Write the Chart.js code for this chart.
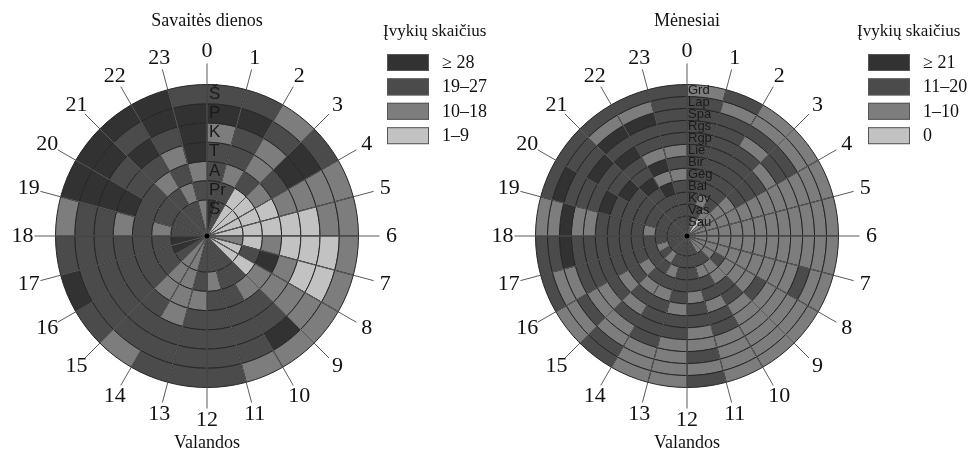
<!DOCTYPE html>
<html>
<head>
<meta charset="utf-8">
<script src="https://cdn.jsdelivr.net/npm/chart.js@4.4.1/dist/chart.umd.min.js"></script>
<style>
  html, body { margin: 0; padding: 0; background: #fff; }
  #wrap { position: relative; width: 976px; height: 456px; overflow: hidden; }
  .box { position: absolute; top: 0; height: 456px; }
</style>
</head>
<body>
<div id="wrap">
  <div class="box" style="left:0; width:520px"><canvas id="chartDays"></canvas></div>
  <div class="box" style="left:488px; width:488px"><canvas id="chartMonths"></canvas></div>
</div>
<script>
// hours round the circle
const hours = ['0','1','2','3','4','5','6','7','8','9','10','11','12','13','14','15','16','17','18','19','20','21','22','23'];

// class of each cell (0 = lightest ... 3 = darkest), one array per ring, outer ring first
const dayLabels = ['Š', 'P', 'K', 'T', 'A', 'Pr', 'S'];
const dSat = [2,2,1,2,1,1, 1,1,1,1,1,2, 2,2,1,2,3,2, 1,3,3,3,3,2];
const dFri = [3,3,2,3,1,1, 0,0,1,3,2,2, 2,2,2,2,2,2, 2,3,3,2,3,3];
const dThu = [1,2,1,3,1,0, 0,0,1,2,2,2, 2,2,2,2,2,2, 2,3,2,3,2,3];
const dWed = [2,2,1,2,1,0, 0,1,1,2,2,2, 2,1,2,2,2,2, 1,3,2,2,1,3];
const dTue = [2,1,2,1,0,0, 1,3,1,1,2,2, 1,1,1,2,2,2, 2,2,2,1,2,1];
const dMon = [2,2,0,0,0,0, 0,2,0,2,2,1, 2,1,1,2,2,2, 1,2,2,2,1,2];
const dSun = [3,2,0,0,0,0, 1,0,0,2,2,2, 2,1,1,2,3,3, 2,2,2,2,2,1];
const dayLegend = ['≥ 28', '19–27', '10–18', '1–9'];

const monthLabels = ['Grd','Lap','Spa','Rgs','Rgp','Lie','Bir','Geg','Bal','Kov','Vas','Sau'];
const mDec = [1,2,1,1,1,1, 1,1,1,1,1,2, 1,1,2,1,2,2, 1,2,2,2,2,2];
const mNov = [2,1,1,1,1,1, 1,1,1,1,1,1, 1,1,2,1,1,2, 1,3,2,1,1,2];
const mOct = [2,2,2,2,1,1, 1,2,1,1,1,2, 1,1,1,2,1,3, 3,2,2,3,3,2];
const mSep = [2,2,1,2,1,1, 1,1,1,1,1,1, 1,2,1,1,2,2, 1,2,3,2,2,2];
const mAug = [2,2,2,1,1,1, 1,1,1,1,2,1, 2,2,2,1,2,2, 1,2,2,3,2,2];
const mJul = [2,2,2,2,1,1, 1,1,2,1,2,2, 2,2,1,2,2,2, 2,3,2,2,1,1];
const mJun = [2,2,2,2,1,1, 1,1,1,2,1,2, 1,2,2,1,2,2, 2,2,3,2,3,2];
const mMay = [2,2,2,2,1,1, 1,1,1,2,2,1, 2,1,1,2,2,2, 2,2,2,3,1,1];
const mApr = [2,2,2,1,1,1, 1,1,1,1,2,2, 2,2,2,1,2,2, 2,2,2,2,3,2];
const mMar = [2,1,2,1,1,1, 1,1,2,1,1,2, 2,1,2,2,2,2, 1,2,2,2,2,2];
const mFeb = [2,2,1,1,1,1, 1,1,1,2,2,2, 2,2,1,2,1,2, 2,2,2,2,2,2];
const mJan = [2,1,0,1,1,1, 1,1,1,1,2,2, 2,2,2,2,2,2, 2,2,2,2,2,2];
const monthLegend = ['≥ 21', '11–20', '1–10', '0'];

const shades = ['#c2c2c2', '#7d7d7d', '#4b4b4b', '#323232'];

const CY = 236;
const R = 152;

function ringSets(rows, innerWeight) {
  return rows.map((row, i) => ({
    data: row.map(() => 1),
    backgroundColor: row.map(v => shades[v]),
    borderColor: '#262626',
    borderWidth: 1,
    weight: i === rows.length - 1 ? innerWeight : 1
  }));
}

// radial ticks, hour numbers, ring names, titles and the legend
const decorations = {
  id: 'decorations',
  afterDraw(chart, args, opts) {
    const ctx = chart.ctx;
    const arc = chart.getDatasetMeta(0).data[0];
    const cx = arc.x, cy = arc.y, r = arc.outerRadius;
    const n = opts.rings.length;
    const ringW = r / (n - 1 + opts.innerWeight);
    ctx.save();

    // tick lines
    ctx.strokeStyle = '#5a5a5a';
    ctx.lineWidth = 1;
    hours.forEach((h, i) => {
      const a = i * Math.PI / 12;
      ctx.beginPath();
      ctx.moveTo(cx, cy);
      ctx.lineTo(cx + Math.sin(a) * (r + 21), cy - Math.cos(a) * (r + 21));
      ctx.stroke();
    });
    ctx.fillStyle = '#000';
    ctx.beginPath();
    ctx.arc(cx, cy, 2.5, 0, Math.PI * 2);
    ctx.fill();

    // hour numbers
    ctx.fillStyle = '#111';
    ctx.font = '22px "Liberation Serif", serif';
    ctx.textAlign = 'center';
    ctx.textBaseline = 'middle';
    hours.forEach((h, i) => {
      const a = i * Math.PI / 12;
      const rr = r + 33;
      ctx.fillText(h, cx + Math.sin(a) * rr, cy - Math.cos(a) * rr);
    });

    // ring names along the 0 line
    ctx.fillStyle = '#1a1a1a';
    ctx.font = opts.ringFont;
    ctx.textAlign = 'left';
    opts.rings.forEach((name, i) => {
      const rm = r - ringW * (i + 0.5);
      ctx.fillText(name, cx + opts.ringDx, cy - rm);
    });

    // titles
    ctx.fillStyle = '#111';
    ctx.font = '18px "Liberation Serif", serif';
    ctx.textAlign = 'center';
    ctx.fillText(opts.title, cx, 21);
    ctx.fillText('Valandos', cx, 443);

    // legend
    const lx = opts.legendX;
    ctx.textAlign = 'left';
    ctx.font = '17px "Liberation Serif", serif';
    ctx.fillText('Įvykių skaičius', opts.legendTitleX, 32);
    ctx.font = '18px "Liberation Serif", serif';
    const boxColors = [shades[3], shades[2], shades[1], shades[0]];
    opts.legend.forEach((t, i) => {
      const y = 54 + i * 24.4;
      ctx.fillStyle = boxColors[i];
      ctx.fillRect(lx, y, 42, 17);
      ctx.strokeStyle = '#555';
      ctx.strokeRect(lx + 0.5, y + 0.5, 41, 16);
      ctx.fillStyle = '#111';
      ctx.fillText(t, lx + 55, y + 9);
    });
    ctx.restore();
  }
};

function makeChart(id, rows, innerWeight, cx, width, extra) {
  new Chart(document.getElementById(id), {
    type: 'doughnut',
    data: { labels: hours, datasets: ringSets(rows, innerWeight) },
    options: {
      responsive: true,
      maintainAspectRatio: false,
      animation: false,
      cutout: 0,
      rotation: 0,
      events: [],
      layout: {
        padding: { left: cx - R, right: width - cx - R, top: CY - R, bottom: 456 - CY - R }
      },
      plugins: {
        legend: { display: false },
        tooltip: { enabled: false },
        decorations: Object.assign({ innerWeight: innerWeight }, extra)
      }
    },
    plugins: [decorations]
  });
}

makeChart('chartDays', [dSat, dFri, dThu, dWed, dTue, dMon, dSun], 1.88, 207, 520, {
  rings: dayLabels,
  ringFont: '17px "Liberation Sans", Arial, sans-serif',
  ringDx: 2,
  title: 'Savaitės dienos',
  legend: dayLegend,
  legendX: 387,
  legendTitleX: 383
});

makeChart('chartMonths', [mDec, mNov, mOct, mSep, mAug, mJul, mJun, mMay, mApr, mMar, mFeb, mJan], 1.67, 199, 488, {
  rings: monthLabels,
  ringFont: '13px "Liberation Sans", Arial, sans-serif',
  ringDx: 1,
  title: 'Mėnesiai',
  legend: monthLegend,
  legendX: 380,
  legendTitleX: 369
});
</script>
</body>
</html>
